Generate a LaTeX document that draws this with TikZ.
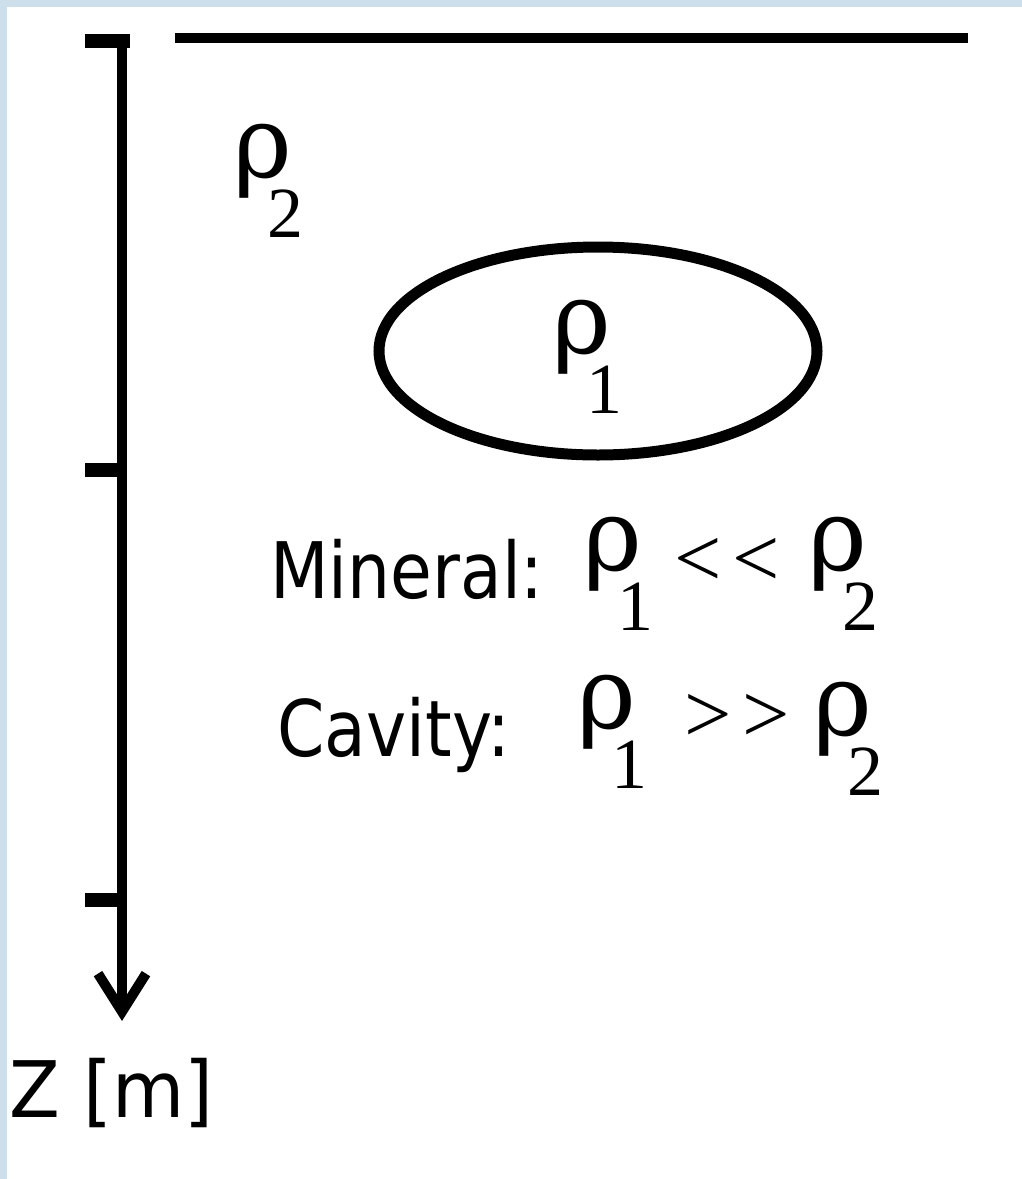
\documentclass[tikz,border=0pt]{standalone}
\usepackage{fontspec}
\setmainfont{Liberation Serif}
\newfontfamily\rhoFont{DejaVu Serif}
\newfontfamily\geoSans[FakeStretch=0.87]{DejaVu Sans}
\newfontfamily\geoAxisFont[FakeStretch=0.95]{DejaVu Sans}
\usetikzlibrary{arrows.meta}
\definecolor{geoInk}{HTML}{000000}
\definecolor{geoFrame}{HTML}{CDDFEA}
% density symbol with a large lowered index
\newcommand\rhoSub[1]{{\rhoFont\fontsize{50}{50}\selectfont\makebox[17pt][l]{ρ}}%
  \raisebox{-30pt}{\fontsize{36}{36}\selectfont #1}}
\tikzset{
  every picture/.style={text=geoInk},
  geo line/.style={draw=geoInk, line width=5pt},
  geo body/.style={draw=geoInk, line width=5.5pt},
  geo tick/.style={draw=geoInk, line width=7pt},
  geo axis/.style={draw=geoInk, line width=5pt,
    -{Straight Barb[length=19pt,width=24pt]}},
  rho label/.style={inner sep=0pt, anchor=base west},
  geo text/.style={inner sep=0pt, anchor=base west,
    font=\geoSans\fontsize{39}{39}\selectfont},
  geo rel/.style={inner sep=0pt, anchor=center,
    font=\fontsize{42}{42}\selectfont}
}
\begin{document}
\begin{tikzpicture}[x=0.5pt,y=-0.5pt]
  \useasboundingbox (0,0) rectangle (1022,1179);
  \fill[geoFrame] (0,0) rectangle (1022,1179);
  \fill[white] (7,7) rectangle (1022,1179);
  % ground surface
  \coordinate (surfL) at (175,38);
  \coordinate (surfR) at (968,38);
  \draw[geo line] (surfL) -- (surfR);
  % depth axis
  \coordinate (zTop) at (122,36);
  \coordinate (zEnd) at (122,1021);
  \draw[geo axis] (zTop) -- (zEnd);
  \foreach \ty/\tx in {41/130,470/122,900/122} {
    \draw[geo tick] (85,\ty) -- (\tx,\ty);
  }
  \node[inner sep=0pt, anchor=base west,
    font=\geoAxisFont\fontsize{39}{39}\selectfont] (zLabel) at (9,1117) {Z [m]};
  % host rock and body
  \node[rho label] (rhoHost) at (233,177) {\rhoSub{2}};
  \draw[geo body] (598,351) ellipse [x radius=109.5pt, y radius=52pt];
  \node[rho label] (rhoBody) at (552,353) {\rhoSub{1}};
  % cases
  \node[geo text] (mineral) at (270,598) {Mineral:};
  \node[rho label] (minRhoA) at (583,570) {\rhoSub{1}};
  \node[geo rel] (minRel) at (727,562) {<\kern5pt<};
  \node[rho label] (minRhoB) at (808,570) {\rhoSub{2}};
  \node[geo text] (cavity) at (277,756) {Cavity:};
  \node[rho label] (cavRhoA) at (577,728) {\rhoSub{1}};
  \node[geo rel] (cavRel) at (737,718) {>\kern5pt>};
  \node[rho label] (cavRhoB) at (813,735) {\rhoSub{2}};
\end{tikzpicture}
\end{document}
